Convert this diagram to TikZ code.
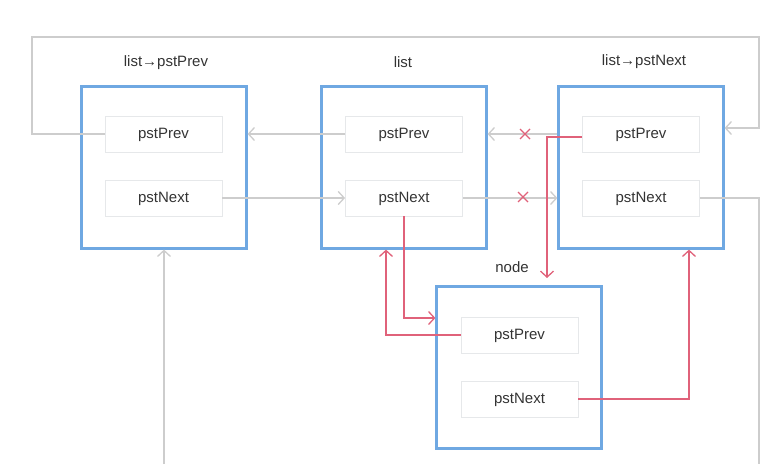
\documentclass[tikz,border=0pt]{standalone}
\usepackage{fontspec}
\setmainfont{Liberation Sans}
\usetikzlibrary{arrows.meta}
\definecolor{bx}{HTML}{6FA8E2}
\definecolor{gl}{HTML}{CDCDCD}
\definecolor{rd}{HTML}{E0627A}
\definecolor{ib}{HTML}{E6E8EA}
\definecolor{tx}{HTML}{333333}
\tikzset{
  outer/.style={draw=bx, line width=2.2pt, minimum width=165pt, minimum height=162pt, inner sep=0pt},
  field/.style={draw=ib, line width=0.8pt, minimum width=117pt, minimum height=36pt, inner sep=0pt, text=tx, text height=11pt, text depth=3pt, font=\fontsize{15}{17}\selectfont},
  title/.style={text=tx, font=\fontsize{15}{17}\selectfont, inner sep=0pt},
  gline/.style={draw=gl, line width=1.4pt},
  rline/.style={draw=rd, line width=1.4pt},
  tip/.style={-{Straight Barb[length=6pt,width=13pt,line width=1.3pt]}},
}
\begin{document}
\begin{tikzpicture}[x=1pt,y=-1pt]
\useasboundingbox (0,0) rectangle (766,464);
% outer boxes
\node[outer] (B1) at (164,167.5) {};
\node[outer] (B2) at (404,167.5) {};
\node[outer] (B3) at (641,167.5) {};
\node[outer] (N) at (519,367.5) {};
% titles
\node[title] (t1) at (166,63) {list→pstPrev};
\node[title] (t2) at (403,62) {list};
\node[title] (t3) at (644,62) {list→pstNext};
\node[title] (t4) at (512,267) {node};
% fields
\node[field] (b1p) at (163.5,134) {pstPrev};
\node[field] (b1n) at (163.5,198) {pstNext};
\node[field] (b2p) at (404,134) {pstPrev};
\node[field] (b2n) at (404,198) {pstNext};
\node[field] (b3p) at (641,134) {pstPrev};
\node[field] (b3n) at (641,198) {pstNext};
\node[field] (np) at (519.5,335) {pstPrev};
\node[field] (nn) at (519.5,399) {pstNext};
% helper coordinates
\coordinate (L) at (32,37);
\coordinate (R) at (759,37);
\coordinate (r3) at (0,128);
\coordinate (Rb) at (759,464);
\coordinate (Bb) at (0,464);
\coordinate (ry) at (0,318);
\coordinate (rx) at (386,0);
\coordinate (dn) at (547,278);
\coordinate (ux) at (689,0);
% gray connectors
\draw[gline,tip] (b1p.west) -| (L) -- (R) |- (B3.east |- r3);
\draw[gline,tip] (b2p.west) -- (b2p.west -| B1.east);
\draw[gline,tip] (b3p.west -| B3.west) -- (b3p.west -| B2.east);
\draw[gline,tip] (b1n.east) -- (b2n.west);
\draw[gline,tip] (b2n.east) -- (b2n.east -| B3.west);
\draw[gline] (b3n.east) -| (Rb);
\draw[gline,tip] (B1.south |- Bb) -- (B1.south);
% red connectors
\draw[rline,tip] (b2n.south) |- (N.west |- ry);
\draw[rline,tip] (np.west) -| (rx |- B2.south);
\draw[rline,tip] ([yshift=-3pt]b3p.west) -| (dn);
\draw[rline,tip] (nn.east) -| (ux |- B3.south);
% crosses
\foreach \cx/\cy in {525/134, 523/197} {
  \draw[rd, line width=1.3pt] (\cx-5,\cy-5) -- (\cx+5,\cy+5) (\cx-5,\cy+5) -- (\cx+5,\cy-5);
}
\end{tikzpicture}
\end{document}
